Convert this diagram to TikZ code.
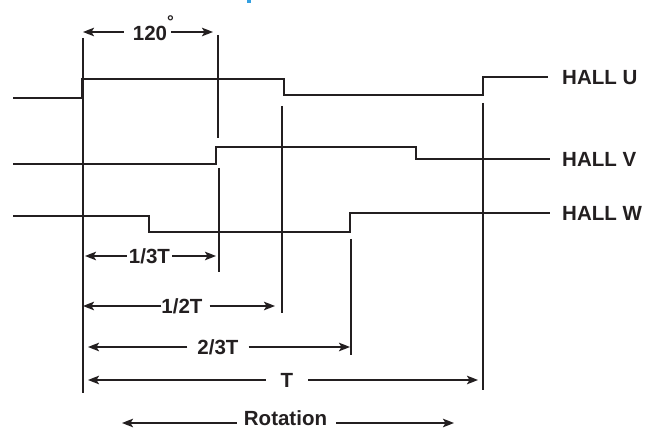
\documentclass[tikz,border=0pt]{standalone}
\usepackage{fontspec}
\setmainfont{Liberation Sans}
\usetikzlibrary{arrows.meta}
\definecolor{ink}{RGB}{35,31,32}
\definecolor{titleblue}{RGB}{52,160,225}
\begin{document}
\begin{tikzpicture}[x=1pt,y=-1pt,
  sig/.style={ink,line width=2.6pt,line join=miter,line cap=butt},
  vline/.style={ink,line width=2.2pt},
  dim/.style={ink,line width=2pt,-{Stealth[length=11pt,width=8.5pt,inset=2.5pt]}},
  lbl/.style={ink,font=\bfseries\fontsize{20.5}{22}\selectfont,inner ysep=0pt,text depth=0pt}]
\useasboundingbox (0,0) rectangle (646,430);
% cut-off title fragment
\fill[titleblue] (246.5,0) rectangle (250.5,3.5);
% signals
\draw[sig] (13,98) -- (82,98) -- (82,79) -- (284,79) -- (284,95) -- (483,95) -- (483,77) -- (548,77);
\draw[sig] (13,164) -- (216,164) -- (216,147) -- (416,147) -- (416,159) -- (550,159);
\draw[sig] (13,216) -- (149,216) -- (149,232) -- (350,232) -- (350,213) -- (550,213);
% labels
\node[lbl,anchor=west,inner xsep=0pt] (hu) at (562,77) {HALL U};
\node[lbl,anchor=west,inner xsep=0pt] (hv) at (562,159) {HALL V};
\node[lbl,anchor=west,inner xsep=0pt] (hw) at (562,213) {HALL W};
% marker lines
\coordinate (m0a) at (83,38);  \coordinate (m0b) at (83,393);
\coordinate (m120a) at (218,35); \coordinate (m120b) at (218,138);
\coordinate (m13a) at (219,168); \coordinate (m13b) at (219,272);
\coordinate (m12a) at (282,106); \coordinate (m12b) at (282,313);
\coordinate (m23a) at (351,239); \coordinate (m23b) at (351,355);
\coordinate (mTa) at (483,103); \coordinate (mTb) at (483,390);
\draw[vline] (m0a) -- (m0b);
\draw[vline] (m120a) -- (m120b);
\draw[vline] (m13a) -- (m13b);
\draw[vline] (m12a) -- (m12b);
\draw[vline] (m23a) -- (m23b);
\draw[vline] (mTa) -- (mTb);
% dimension labels
\node[lbl,inner xsep=9pt] (t120) at (150,28) {120\rlap{\raisebox{13pt}{\fontsize{17}{17}\selectfont °}}};
\node[lbl,inner xsep=2pt] (t13) at (149.5,256) {1/3T};
\node[lbl,inner xsep=0pt] (t12) at (182,306) {1/2T};
\node[lbl,inner xsep=10pt] (t23) at (218,347) {2/3T};
\node[lbl,inner xsep=15pt] (tT) at (287,380) {T};
\node[lbl,inner xsep=7pt] (trot) at (285.5,418.5) {Rotation};
% arrow tips
\coordinate (a120l) at (83,32);  \coordinate (a120r) at (213,32);
\coordinate (a13l) at (85,256);  \coordinate (a13r) at (216,256);
\coordinate (a12l) at (83,306);  \coordinate (a12r) at (275,306);
\coordinate (a23l) at (88,347);  \coordinate (a23r) at (350,347);
\coordinate (aTl) at (88,380);   \coordinate (aTr) at (478,380);
\coordinate (arl) at (122,423);  \coordinate (arr) at (454,423);
% dimension arrows
\draw[dim] ([yshift=-4pt]t120.west) -- (a120l);
\draw[dim] ([xshift=-5pt,yshift=-4pt]t120.east) -- (a120r);
\draw[dim] (t13.west) -- (a13l);
\draw[dim] (t13.east) -- (a13r);
\draw[dim] (t12.west) -- (a12l);
\draw[dim] ([xshift=7pt]t12.east) -- (a12r);
\draw[dim] (t23.west) -- (a23l);
\draw[dim] (t23.east) -- (a23r);
\draw[dim] (tT.west) -- (aTl);
\draw[dim] (tT.east) -- (aTr);
\draw[dim] ([yshift=-4.5pt]trot.west) -- (arl);
\draw[dim] ([xshift=2pt,yshift=-4.5pt]trot.east) -- (arr);
\end{tikzpicture}
\end{document}
